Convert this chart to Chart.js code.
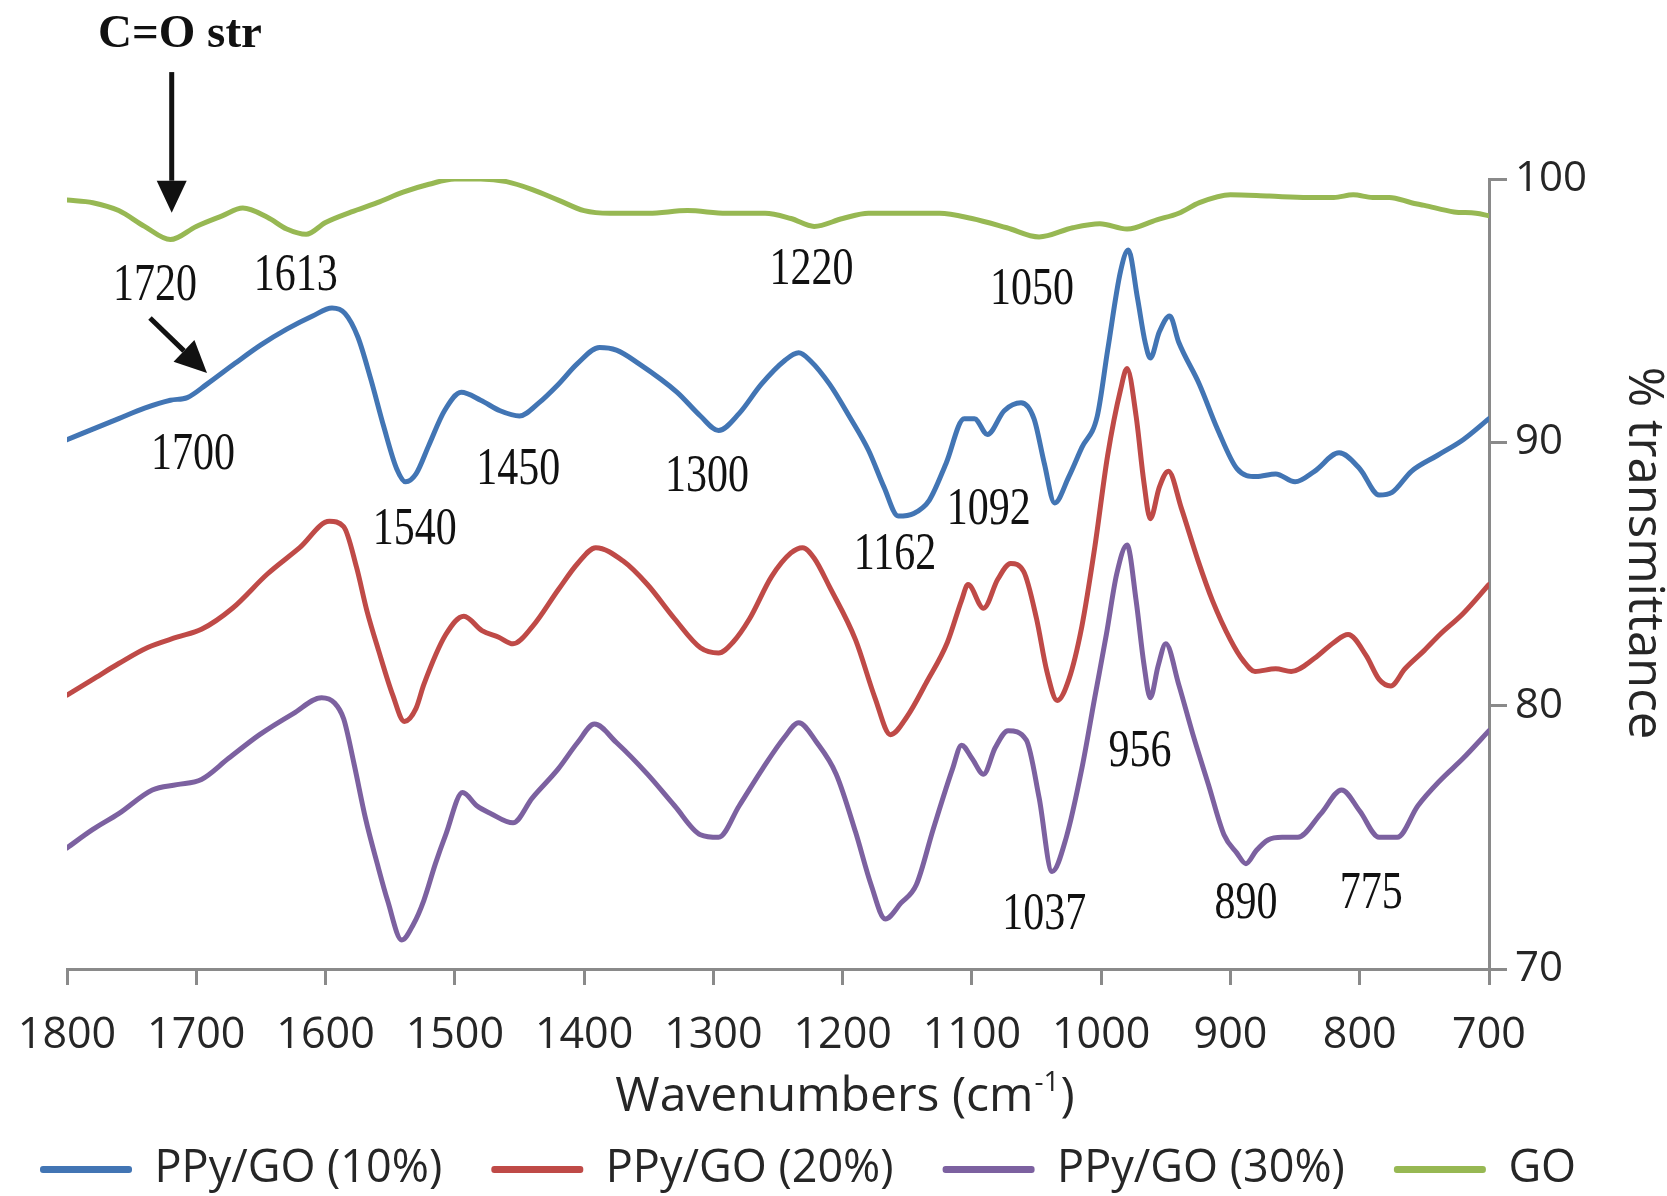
<!DOCTYPE html>
<html>
<head>
<meta charset="utf-8">
<title>FTIR spectra of GO and PPy/GO composites</title>
<script src="https://cdn.jsdelivr.net/npm/chart.js@4.4.1/dist/chart.umd.min.js"></script>
<style>
  html, body { margin: 0; padding: 0; background: #ffffff; }
  #wrap { width: 1667px; height: 1196px; }
</style>
</head>
<body>
<div id="wrap"><canvas id="ftir" width="1667" height="1196"></canvas></div>
<script>
// ---- spectra: wavenumber (cm-1) and % transmittance ----
const wn10 = [1800,1780,1760,1740,1720,1707,1692,1670,1650,1630,1610,1595,1585,1575,1565,1555,1545,1538,1530,1520,1508,1495,1480,1465,1450,1435,1420,1405,1388,1375,1358,1328,1310,1296,1280,1263,1245,1234,1225,1210,1195,1180,1168,1157,1145,1133,1120,1106,1098,1088,1075,1062,1052,1044,1036,1025,1015,1003,995,985,979,972,966,962,955,947,940,924,910,895,880,865,850,835,816,800,785,775,760,740,720,700];
const t10 = [90.1,90.5,90.9,91.3,91.6,91.7,92.2,93.0,93.7,94.3,94.8,95.1,94.9,94.0,92.4,90.6,89.0,88.5,88.8,89.9,91.2,91.9,91.6,91.2,91.0,91.5,92.2,93.0,93.6,93.5,93.0,91.9,91.0,90.45,91.1,92.2,93.1,93.4,93.1,92.2,91.0,89.7,88.3,87.2,87.3,87.8,89.2,90.9,90.9,90.3,91.2,91.5,90.9,89.2,87.7,88.7,89.8,91.0,93.5,96.5,97.3,95.5,93.8,93.2,94.2,94.8,93.8,92.2,90.5,89.0,88.7,88.8,88.5,88.9,89.6,89.0,88.0,88.1,88.9,89.5,90.1,90.9];

const wn20 = [1800,1780,1760,1738,1715,1696,1672,1645,1620,1597,1586,1576,1568,1559,1548,1539,1530,1524,1507,1493,1479,1466,1455,1440,1420,1405,1391,1370,1351,1330,1310,1296,1285,1272,1255,1240,1231,1222,1210,1190,1175,1163,1150,1135,1119,1108,1103,1091,1080,1070,1060,1050,1042,1034,1025,1015,1005,995,985,980,973,967,962,955,948,938,925,914,900,890,881,865,853,835,820,809,795,785,776,765,750,738,720,700];
const t20 = [80.4,81.0,81.6,82.2,82.6,82.9,83.7,85.0,86.0,87.0,86.8,85.25,83.6,82.1,80.4,79.4,79.9,80.8,82.7,83.4,82.85,82.6,82.35,83.0,84.4,85.4,86.0,85.5,84.6,83.3,82.2,82.0,82.4,83.3,84.9,85.8,86.0,85.6,84.5,82.5,80.3,78.9,79.6,80.9,82.4,84.0,84.6,83.7,84.8,85.4,85.1,83.3,81.3,80.2,81.0,83.0,86.0,89.5,92.0,92.8,91.0,88.5,87.1,88.3,88.9,87.5,85.5,84.0,82.5,81.7,81.3,81.4,81.3,81.8,82.4,82.7,81.9,81.0,80.75,81.4,82.1,82.7,83.5,84.6];

const wn30 = [1800,1780,1760,1734,1715,1696,1675,1651,1625,1603,1593,1586,1578,1569,1560,1552,1541,1532,1524,1515,1507,1494,1483,1472,1455,1440,1420,1405,1392,1375,1351,1330,1310,1296,1280,1262,1245,1234,1220,1205,1190,1178,1167,1155,1143,1130,1115,1108,1100,1091,1082,1072,1058,1048,1038,1027,1015,1005,996,988,980,973,967,962,956,950,940,929,917,905,895,888,880,871,860,848,830,814,800,785,771,755,738,720,700];
const t30 = [74.6,75.3,75.9,76.8,77.0,77.2,78.0,78.9,79.7,80.3,80.1,79.5,77.8,75.7,74.0,72.6,71.1,71.7,72.6,74.0,75.1,76.7,76.2,75.9,75.55,76.5,77.6,78.6,79.3,78.6,77.4,76.2,75.1,75.0,76.2,77.6,78.8,79.35,78.6,77.4,75.2,73.2,71.9,72.5,73.2,75.3,77.6,78.5,78.0,77.4,78.4,79.05,78.7,76.5,73.7,75.0,77.6,80.3,82.7,85.0,86.1,84.0,81.6,80.3,81.5,82.35,80.8,78.9,77.0,75.1,74.4,74.0,74.5,74.9,75.0,75.0,75.9,76.8,76.0,75.0,75.0,76.2,77.15,78.0,79.05];

const wnGO = [1800,1780,1760,1740,1720,1700,1680,1664,1645,1630,1615,1600,1580,1560,1540,1520,1500,1480,1460,1440,1420,1400,1380,1350,1320,1290,1260,1240,1222,1200,1180,1150,1125,1100,1073,1048,1022,1001,980,957,940,924,900,870,840,820,805,790,777,760,750,727,710,700];
const tGO = [99.2,99.1,98.8,98.2,97.7,98.2,98.6,98.9,98.55,98.1,97.9,98.35,98.75,99.1,99.5,99.8,100.0,100.0,99.9,99.6,99.2,98.8,98.7,98.7,98.8,98.7,98.7,98.5,98.2,98.5,98.7,98.7,98.7,98.5,98.15,97.8,98.15,98.3,98.1,98.45,98.7,99.1,99.4,99.35,99.3,99.3,99.4,99.3,99.3,99.1,99.0,98.75,98.7,98.6];

const seriesNames = ['PPy/GO (10%)', 'PPy/GO (20%)', 'PPy/GO (30%)', 'GO'];
const xTickStep = 100;      // cm-1
const yTickStep = 10;       // % transmittance

// band assignments written on the plot (wavenumber label, placed in data units)
const bandLabels = [
  { text: '1720', wn: 1732, t: 95.94 },
  { text: '1613', wn: 1623, t: 96.32 },
  { text: '1220', wn: 1224, t: 96.54 },
  { text: '1050', wn: 1053.5, t: 95.78 },
  { text: '1700', wn: 1702.5, t: 89.52 },
  { text: '1450', wn: 1451, t: 88.95 },
  { text: '1300', wn: 1305, t: 88.68 },
  { text: '1540', wn: 1531, t: 86.67 },
  { text: '1162', wn: 1159.5, t: 85.72 },
  { text: '1092', wn: 1087, t: 87.43 },
  { text: '956',  wn: 970, t: 78.24 },
  { text: '1037', wn: 1044, t: 72.05 },
  { text: '890',  wn: 888, t: 72.46 },
  { text: '775',  wn: 791, t: 72.84 }
];
const carbonylNote = { text: 'C=O str', wn: 1712.6, t: 105.47 };
const arrows = [
  { from: { wn: 1719, t: 104.06 }, to: { wn: 1719, t: 98.72 } },
  { from: { wn: 1735.8, t: 94.72 }, to: { wn: 1691.7, t: 92.63 } }
];
const xTitle = { main: 'Wavenumbers (cm', sup: '-1', close: ')' };
const yTitle = '% transmittance';

// ---- styling / layout ----
const colors = ['#4275b4', '#bf4a47', '#7c61a0', '#97b853'];
const axisGray = '#8a8a8a';
const textColor = '#262626';
const sansFamily = '"Open Sans", "DejaVu Sans", sans-serif';
const serifFamily = '"Liberation Serif", "Times New Roman", serif';
const CANVAS_W = 1667, CANVAS_H = 1196;
const PLOT_LEFT = 67, PLOT_RIGHT = 1489, PLOT_BOTTOM = 969;
const PAD = { left: -9, right: 0, top: 179, bottom: -6 };
const X_TITLE_POS = { x: 845, y: 1097 };
const Y_TITLE_POS = { x: 1643, y: 553 };

const toPoints = (xs, ys) => xs.map((w, i) => ({ x: w, y: ys[i] }));
const spectra = [[wn10, t10], [wn20, t20], [wn30, t30], [wnGO, tGO]];

function drawArrow(ctx, x0, y0, x1, y1, headLen, headHalf) {
  const ang = Math.atan2(y1 - y0, x1 - x0);
  const bx = x1 - headLen * Math.cos(ang), by = y1 - headLen * Math.sin(ang);
  ctx.beginPath();
  ctx.moveTo(x0, y0);
  ctx.lineTo(bx, by);
  ctx.stroke();
  ctx.beginPath();
  ctx.moveTo(x1, y1);
  ctx.lineTo(bx + headHalf * Math.sin(ang), by - headHalf * Math.cos(ang));
  ctx.lineTo(bx - headHalf * Math.sin(ang), by + headHalf * Math.cos(ang));
  ctx.closePath();
  ctx.fill();
}

// peak labels, the carbonyl note and its arrows
const bandLabelPlugin = {
  id: 'bandLabels',
  afterDatasetsDraw(chart) {
    const { ctx, scales: { x, y } } = chart;
    ctx.save();
    ctx.fillStyle = '#111111';
    ctx.strokeStyle = '#111111';
    ctx.textAlign = 'center';
    ctx.textBaseline = 'middle';
    ctx.font = '42px ' + serifFamily;
    bandLabels.forEach(l => {
      ctx.save();
      ctx.translate(x.getPixelForValue(l.wn), y.getPixelForValue(l.t));
      ctx.scale(1, 1.25);
      ctx.fillText(l.text, 0, 0);
      ctx.restore();
    });
    ctx.font = 'bold 47px ' + serifFamily;
    ctx.fillText(carbonylNote.text, x.getPixelForValue(carbonylNote.wn), y.getPixelForValue(carbonylNote.t));
    ctx.lineWidth = 5;
    arrows.forEach(a => {
      drawArrow(ctx,
        x.getPixelForValue(a.from.wn), y.getPixelForValue(a.from.t),
        x.getPixelForValue(a.to.wn), y.getPixelForValue(a.to.t), 32, 15);
    });
    ctx.restore();
  }
};

// axis titles (x title carries a real superscript)
const axisTitlePlugin = {
  id: 'axisTitles',
  afterDraw(chart) {
    const { ctx } = chart;
    ctx.save();
    ctx.fillStyle = textColor;
    ctx.textBaseline = 'middle';
    ctx.textAlign = 'left';
    const big = '48px ' + sansFamily, small = '28px ' + sansFamily;
    ctx.font = big;
    const wMain = ctx.measureText(xTitle.main).width;
    const wClose = ctx.measureText(xTitle.close).width;
    ctx.font = small;
    const wSup = ctx.measureText(xTitle.sup).width;
    let cx = X_TITLE_POS.x - (wMain + wSup + wClose + 2) / 2;
    ctx.font = big;
    ctx.fillText(xTitle.main, cx, X_TITLE_POS.y);
    cx += wMain + 1;
    ctx.font = small;
    ctx.fillText(xTitle.sup, cx, X_TITLE_POS.y - 14);
    cx += wSup + 1;
    ctx.font = big;
    ctx.fillText(xTitle.close, cx, X_TITLE_POS.y);

    ctx.translate(Y_TITLE_POS.x, Y_TITLE_POS.y);
    ctx.rotate(Math.PI / 2);
    ctx.textAlign = 'center';
    ctx.font = '49px ' + sansFamily;
    ctx.fillText(yTitle, 0, 0);
    ctx.restore();
  }
};

new Chart(document.getElementById('ftir'), {
  type: 'line',
  data: {
    datasets: spectra.map(([xs, ys], i) => ({
      label: seriesNames[i],
      data: toPoints(xs, ys),
      borderColor: colors[i],
      backgroundColor: colors[i],
      borderWidth: 5,
      pointRadius: 0,
      cubicInterpolationMode: 'monotone',
      borderJoinStyle: 'round',
      borderCapStyle: 'round',
      fill: false
    }))
  },
  options: {
    responsive: false,
    animation: false,
    events: [],
    layout: { padding: PAD },
    plugins: {
      tooltip: { enabled: false },
      legend: {
        position: 'bottom',
        align: 'start',
        labels: {
          boxWidth: 92,
          boxHeight: 7,
          padding: 49,
          color: textColor,
          font: { family: sansFamily, size: 45 },
          generateLabels(chart) {
            return chart.data.datasets.map((ds, i) => ({
              text: ds.label,
              fillStyle: ds.borderColor,
              strokeStyle: ds.borderColor,
              lineWidth: 0,
              borderRadius: 3,
              fontColor: textColor,
              hidden: false,
              datasetIndex: i
            }));
          }
        }
      }
    },
    scales: {
      x: {
        type: 'linear',
        reverse: true,
        min: 700,
        max: 1800,
        afterFit(scale) {
          const legendH = scale.chart.legend ? scale.chart.legend.height : 0;
          scale.height = CANVAS_H - PLOT_BOTTOM - legendH - PAD.bottom;
          scale.paddingLeft = PLOT_LEFT;
        },
        ticks: {
          stepSize: xTickStep,
          padding: 25,
          color: textColor,
          font: { family: sansFamily, size: 43 },
          maxRotation: 0,
          autoSkip: false,
          callback: v => String(v)
        },
        grid: { drawOnChartArea: false, drawTicks: true, tickLength: 16, color: axisGray, lineWidth: 3 },
        border: { display: true, color: axisGray, width: 3 },
        title: { display: false }
      },
      y: {
        position: 'right',
        min: 70,
        max: 100,
        afterFit(scale) { scale.width = CANVAS_W - PLOT_RIGHT - PAD.right; },
        ticks: {
          stepSize: yTickStep,
          padding: 8,
          color: textColor,
          font: { family: sansFamily, size: 42 },
          callback: v => String(v)
        },
        grid: { drawOnChartArea: false, drawTicks: true, tickLength: 18, color: axisGray, lineWidth: 3 },
        border: { display: true, color: axisGray, width: 3 },
        title: { display: false }
      }
    }
  },
  plugins: [bandLabelPlugin, axisTitlePlugin]
});
</script>
</body>
</html>
